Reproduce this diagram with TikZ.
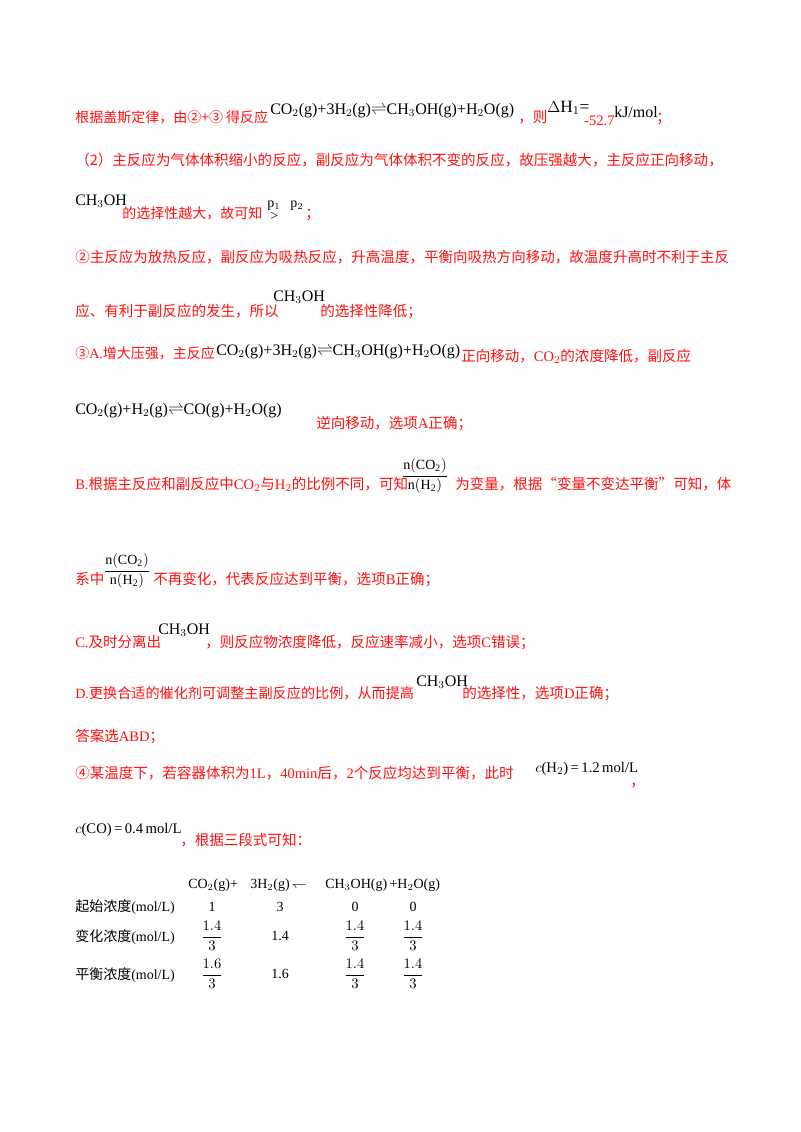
\documentclass[tikz,border=0pt]{standalone}
\usepackage{amsmath}
\usepackage{fontspec}
\setmainfont{Liberation Serif}
\newfontfamily\cjk{Noto Sans CJK SC}
\newcommand{\zh}[1]{{\cjk #1}}
\definecolor{rd}{HTML}{FF1010}
\begin{document}
\begin{tikzpicture}[x=0.75pt,y=-0.75pt,
  t/.style={anchor=base west,inner sep=0,text=rd,font=\fontsize{10.9}{13}\selectfont},
  f/.style={anchor=base west,inner sep=0,text=black,font=\fontsize{12}{13}\selectfont},
  v/.style={anchor=center,inner sep=0,text=black,font=\fontsize{10.5}{12}\selectfont}]
\useasboundingbox[fill=white] (0,0) rectangle (800,1132);
% line 1
\node[t,font=\fontsize{10.5}{13}\selectfont] (a1) at (75,122) {\zh{根据盖斯定律，由②+③ 得反应}};
\node[f] (a2) at (270,114) {CO$_2$(g)+3H$_2$(g)$\rightleftharpoons$CH$_3$OH(g)+H$_2$O(g)};
\node[t] (a3) at (518,122) {\zh{，则}};
\node[f,font=\fontsize{13}{14}\selectfont] (a4) at (547,112) {$\Delta$H$_1$=};
\node[t] (a5) at (584,125) {-52.7};
\node[f] (a6) at (614,117) {kJ/mol};
\node[t] (a7) at (656,122) {\zh{；}};
% line 2
\node[t] (b1) at (75,165) {\zh{（2）主反应为气体体积缩小的反应，副反应为气体体积不变的反应，故压强越大，主反应正向移动，}};
% line 3
\node[f] (c1) at (75,205) {CH$_3$OH};
\node[t,font=\fontsize{10.5}{13}\selectfont] (c2) at (122,218) {\zh{的选择性越大，故可知}};
\node[f,font=\fontsize{10.5}{12}\selectfont] (c3) at (267,207) {p$_1$};
\node[f,font=\fontsize{10.5}{12}\selectfont] (c4) at (270,220) {>};
\node[f,font=\fontsize{10.5}{12}\selectfont] (c5) at (290,207) {p$_2$};
\node[t] (c6) at (305,218) {\zh{；}};
% line 4
\node[t] (d1) at (75,262) {\zh{②主反应为放热反应，副反应为吸热反应，升高温度，平衡向吸热方向移动，故温度升高时不利于主反}};
% line 5
\node[t] (e1) at (75,316) {\zh{应、有利于副反应的发生，所以}};
\node[f] (e2) at (273,301) {CH$_3$OH};
\node[t] (e3) at (320,316) {\zh{的选择性降低；}};
% line 6
\node[t,font=\fontsize{10.5}{13}\selectfont] (g1) at (75,358) {\zh{③}A.\zh{增大压强，主反应}};
\node[f] (g2) at (216,355) {CO$_2$(g)+3H$_2$(g)$\rightleftharpoons$CH$_3$OH(g)+H$_2$O(g)};
\node[t] (g3) at (461,361) {\zh{正向移动，}CO$_2$\zh{的浓度降低，副反应}};
% line 7
\node[f] (h1) at (75,414) {CO$_2$(g)+H$_2$(g)$\rightleftharpoons$CO(g)+H$_2$O(g)};
\node[t] (h2) at (316,428) {\zh{逆向移动，选项}A\zh{正确；}};
% line 8
\node[t] (i1) at (75,489) {B.\zh{根据主反应和副反应中}CO$_2$\zh{与}H$_2$\zh{的比例不同，可知}};
\node[v] (i2) at (425,476) {$\dfrac{\mathrm{n(CO_2)}}{\mathrm{n(H_2)}}$};
\node[t] (i3) at (455,489) {\zh{为变量，根据“变量不变达平衡”可知，体}};
% line 9
\node[t] (j1) at (75,584) {\zh{系中}};
\node[v] (j2) at (127,571) {$\dfrac{\mathrm{n(CO_2)}}{\mathrm{n(H_2)}}$};
\node[t] (j3) at (153,584) {\zh{不再变化，代表反应达到平衡，选项}B\zh{正确；}};
% line 10
\node[t] (k1) at (75,647) {C.\zh{及时分离出}};
\node[f] (k2) at (158,634) {CH$_3$OH};
\node[t] (k3) at (205,647) {\zh{，则反应物浓度降低，反应速率减小，选项}C\zh{错误；}};
% line 11
\node[t,font=\fontsize{10.6}{13}\selectfont] (l1) at (75,698) {D.\zh{更换合适的催化剂可调整主副反应的比例，从而提高}};
\node[f] (l2) at (416,686) {CH$_3$OH};
\node[t] (l3) at (462,698) {\zh{的选择性，选项}D\zh{正确；}};
% line 12
\node[t] (m1) at (75,741) {\zh{答案选}ABD\zh{；}};
% line 13
\node[t] (n1) at (75,778) {\zh{④某温度下，若容器体积为}1L\zh{，}40min\zh{后，}2\zh{个反应均达到平衡，此时}};
\node[f,font=\fontsize{11}{13}\selectfont] (n2) at (535,772) {$c$(H$_2$)\,=\,1.2\,mol/L};
\node[t] (n3) at (630,786) {\zh{，}};
% line 14
\node[f,font=\fontsize{11}{13}\selectfont] (o1) at (75,833) {$c$(CO)\,=\,0.4\,mol/L};
\node[t] (o2) at (180,845) {\zh{，根据三段式可知：}};
% table
\node[f,font=\fontsize{10.5}{12}\selectfont] (p1) at (188,888) {CO$_2$(g)+};
\node[f,font=\fontsize{10.5}{12}\selectfont] (p2) at (250,888) {3H$_2$(g)\,$\leftharpoondown$};
\node[f,font=\fontsize{10.5}{12}\selectfont] (p3) at (325,888) {CH$_3$OH(g)\,+H$_2$O(g)};
\node[f,font=\fontsize{10.5}{12}\selectfont] (q0) at (75,911) {\zh{起始浓度}(mol/L)};
\node[v] (q1) at (212,907) {1};
\node[v] (q2) at (280,907) {3};
\node[v] (q3) at (355,907) {0};
\node[v] (q4) at (413,907) {0};
\node[f,font=\fontsize{10.5}{12}\selectfont] (r0) at (75,941) {\zh{变化浓度}(mol/L)};
\node[v] (r1) at (212,936) {$\dfrac{1.4}{3}$};
\node[v] (r2) at (280,936) {1.4};
\node[v] (r3) at (355,936) {$\dfrac{1.4}{3}$};
\node[v] (r4) at (413,936) {$\dfrac{1.4}{3}$};
\node[f,font=\fontsize{10.5}{12}\selectfont] (s0) at (75,979) {\zh{平衡浓度}(mol/L)};
\node[v] (s1) at (212,974) {$\dfrac{1.6}{3}$};
\node[v] (s2) at (280,974) {1.6};
\node[v] (s3) at (355,974) {$\dfrac{1.4}{3}$};
\node[v] (s4) at (413,974) {$\dfrac{1.4}{3}$};
\end{tikzpicture}
\end{document}
